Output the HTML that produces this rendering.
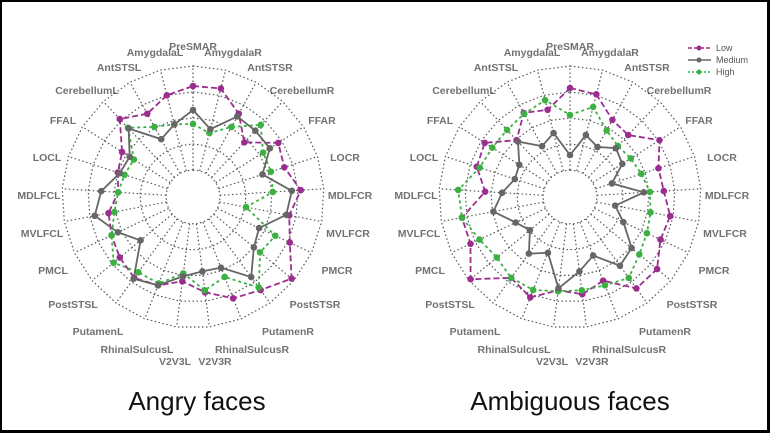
<!DOCTYPE html>
<html><head><meta charset="utf-8"><style>
html,body{margin:0;padding:0;background:#fff}
#w{position:relative;width:770px;height:433px;overflow:hidden;background:#000}
#in{position:absolute;left:2px;top:2px;width:765px;height:428px;background:#fff}
svg{position:absolute;left:0;top:0}
text{font-family:"Liberation Sans",Arial,sans-serif}
.l{font-size:10.5px;fill:#3a3a3a;text-anchor:middle;font-weight:bold;opacity:.85}
.t{font-size:26px;fill:#111;text-anchor:middle;font-family:"Liberation Sans",sans-serif}
</style></head><body>
<div id="w"><div id="in"></div>
<svg id="s" width="770" height="433" viewBox="0 0 770 433">
<g id="g"></g>
<g class="l">
<text class="l" x="193" y="50">PreSMAR</text>
<text class="l" x="155" y="56">AmygdalaL</text>
<text class="l" x="233" y="56">AmygdalaR</text>
<text class="l" x="119" y="71">AntSTSL</text>
<text class="l" x="270" y="71">AntSTSR</text>
<text class="l" x="87" y="94">CerebellumL</text>
<text class="l" x="302" y="94">CerebellumR</text>
<text class="l" x="63" y="124">FFAL</text>
<text class="l" x="322" y="124">FFAR</text>
<text class="l" x="47" y="161">LOCL</text>
<text class="l" x="345" y="161">LOCR</text>
<text class="l" x="39" y="199">MDLFCL</text>
<text class="l" x="350" y="199">MDLFCR</text>
<text class="l" x="42" y="237">MVLFCL</text>
<text class="l" x="348" y="237">MVLFCR</text>
<text class="l" x="53" y="274">PMCL</text>
<text class="l" x="337" y="274">PMCR</text>
<text class="l" x="73" y="308">PostSTSL</text>
<text class="l" x="315" y="308">PostSTSR</text>
<text class="l" x="98" y="335">PutamenL</text>
<text class="l" x="288" y="335">PutamenR</text>
<text class="l" x="137" y="353">RhinalSulcusL</text>
<text class="l" x="252" y="353">RhinalSulcusR</text>
<text class="l" x="175" y="365">V2V3L</text>
<text class="l" x="215" y="365">V2V3R</text>

<text class="l" x="570" y="50">PreSMAR</text>
<text class="l" x="532" y="56">AmygdalaL</text>
<text class="l" x="610" y="56">AmygdalaR</text>
<text class="l" x="496" y="71">AntSTSL</text>
<text class="l" x="647" y="71">AntSTSR</text>
<text class="l" x="464" y="94">CerebellumL</text>
<text class="l" x="679" y="94">CerebellumR</text>
<text class="l" x="440" y="124">FFAL</text>
<text class="l" x="699" y="124">FFAR</text>
<text class="l" x="424" y="161">LOCL</text>
<text class="l" x="722" y="161">LOCR</text>
<text class="l" x="416" y="199">MDLFCL</text>
<text class="l" x="727" y="199">MDLFCR</text>
<text class="l" x="419" y="237">MVLFCL</text>
<text class="l" x="725" y="237">MVLFCR</text>
<text class="l" x="430" y="274">PMCL</text>
<text class="l" x="714" y="274">PMCR</text>
<text class="l" x="450" y="308">PostSTSL</text>
<text class="l" x="692" y="308">PostSTSR</text>
<text class="l" x="475" y="335">PutamenL</text>
<text class="l" x="665" y="335">PutamenR</text>
<text class="l" x="514" y="353">RhinalSulcusL</text>
<text class="l" x="629" y="353">RhinalSulcusR</text>
<text class="l" x="552" y="365">V2V3L</text>
<text class="l" x="592" y="365">V2V3R</text>
</g>
<g font-size="9" fill="#555" font-family="Liberation Sans, sans-serif">
<line x1="688" y1="48" x2="711" y2="48" stroke="#9b2d8f" stroke-width="1.5" stroke-dasharray="4,2"/><circle cx="699" cy="48" r="2.5" fill="#9b2d8f"/>
<text x="716" y="51">Low</text>
<line x1="688" y1="60" x2="711" y2="60" stroke="#666" stroke-width="1.5"/><circle cx="699" cy="60" r="2.5" fill="#666"/>
<text x="716" y="63">Medium</text>
<line x1="688" y1="72" x2="711" y2="72" stroke="#3cb043" stroke-width="1.5" stroke-dasharray="2,2"/><circle cx="699" cy="72" r="2.5" fill="#3cb043"/>
<text x="716" y="75">High</text>
</g>
<text class="t" x="197" y="410">Angry faces</text>
<text class="t" x="570" y="410">Ambiguous faces</text>
</svg></div>
<script>
var NS="http://www.w3.org/2000/svg",g=document.getElementById("g");
function el(n,a){var e=document.createElementNS(NS,n);for(var k in a)e.setAttribute(k,a[k]);g.appendChild(e);return e;}
function pt(cx,cy,r,i){var a=i*14.4*Math.PI/180;return [cx+r*Math.sin(a),cy-r*Math.cos(a)];}
function grid(cx,cy){
 [27,53,79,105,131].forEach(function(r){var p=[];for(var i=0;i<25;i++)p.push(pt(cx,cy,r,i).join(","));
  el("polygon",{points:p.join(" "),fill:"none",stroke:"#555","stroke-width":1.2,"stroke-dasharray":"1.5,2.5"});});
 for(var i=0;i<25;i++){var a=pt(cx,cy,27,i),b=pt(cx,cy,131,i);
  el("line",{x1:a[0],y1:a[1],x2:b[0],y2:b[1],stroke:"#555","stroke-width":1.2,"stroke-dasharray":"1.5,2.5"});}
}
function ser(cx,cy,v,c,d){var p=[];for(var i=0;i<25;i++)p.push(pt(cx,cy,v[i],i));
 var s=p.map(function(q){return q.join(",")}).join(" ");
 var o={points:s,fill:"none",stroke:c,"stroke-width":1.8};if(d)o["stroke-dasharray"]=d;el("polygon",o);
 p.forEach(function(q){el("circle",{cx:q[0],cy:q[1],r:3.3,fill:c});});}
grid(193,197);grid(570,197);
ser(193,197,[111,112,95,75,101,96,108,98,107,128,115,109,96,85,95,100,95,90,86,75,79,84,107,95,105],"#9b2d8f","6,3");
ser(193,197,[73,66,80,99,83,82,80,54,91,87,112,86,94,77,93,93,103,90,80,75,72,70,95,80,75],"#3cb043","3,3");
ser(193,197,[87,70,92,91,91,73,99,95,73,79,99,76,75,80,95,101,68,83,100,92,77,75,94,66,75],"#666",null);
ser(570,197,[109,106,88,85,106,93,94,102,100,113,113,90,98,94,108,100,129,110,110,85,98,101,78,96,90],"#9b2d8f","6,3");
ser(570,197,[82,93,76,70,72,75,80,82,85,90,100,95,94,95,100,100,95,100,110,112,95,92,92,95,100],"#3cb043","3,3");
ser(570,197,[42,64,57,67,62,44,74,46,59,80,85,63,75,92,60,70,52,60,78,68,58,60,76,58,66],"#666",null);
</script>
</body></html>
